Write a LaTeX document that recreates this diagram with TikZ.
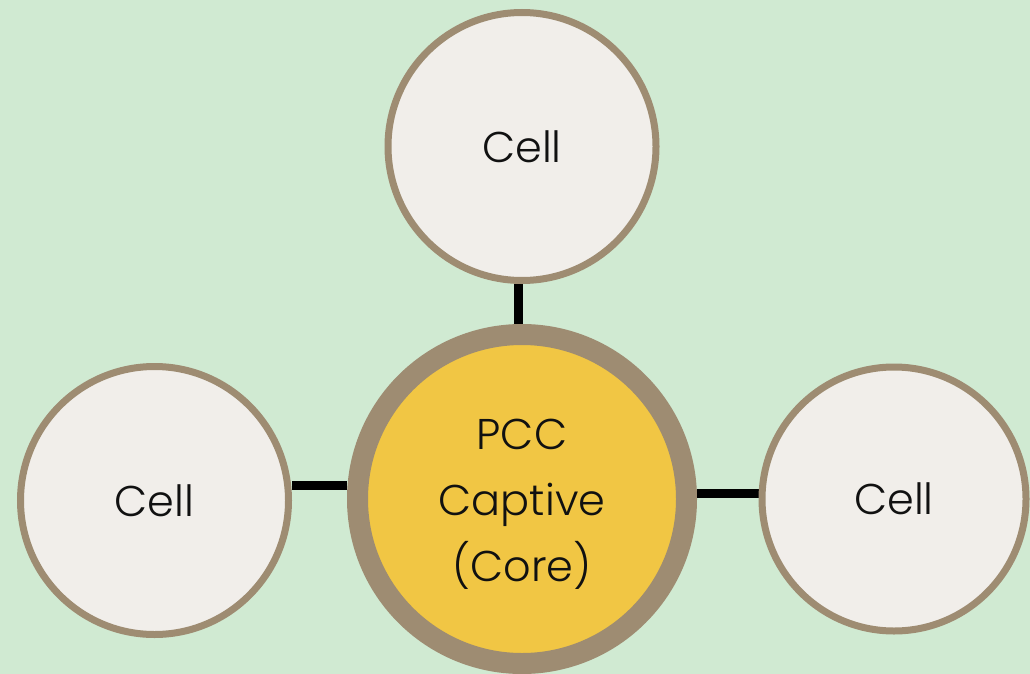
\documentclass[tikz,border=0pt]{standalone}
\usepackage{fontspec}
\setmainfont{Poppins Light}
\pgfdeclarelayer{backdrop}
\pgfdeclarelayer{links}
\pgfsetlayers{backdrop,links,main}
\definecolor{mint}{HTML}{D0EAD2}
\definecolor{rim}{HTML}{9E8C72}
\definecolor{shell}{HTML}{F1EEEA}
\definecolor{gold}{HTML}{F1C644}
\definecolor{ink}{HTML}{111111}
\begin{document}
\begin{tikzpicture}[x=1pt,y=-1pt,
  label text/.style={text=ink,font=\fontsize{43}{66}\selectfont},
  cell/.style={circle,draw=rim,fill=shell,line width=7pt,inner sep=0pt,
    minimum size=268pt,label text},
  corecell/.style={circle,draw=rim,fill=gold,line width=21pt,inner sep=0pt,
    minimum size=329pt},
  link/.style={line width=9pt,draw=black}]
\begin{pgfonlayer}{backdrop}
  \fill[mint] (0,0) rectangle (1030,674);
\end{pgfonlayer}
\useasboundingbox (0,0) rectangle (1030,674);

\node[corecell] (core) at (522,499) {};
\node[label text,align=center] (coretext) at (522,504) {PCC\\Captive\\(Core)};
\node[cell] (top) at (522,146.5) {Cell};
\node[cell] (left) at (154.5,500.5) {Cell};
\node[cell,minimum size=264pt] (right) at (894,499) {Cell};

\begin{pgfonlayer}{links}
  \draw[link] ([xshift=-3.5pt]top.south) -- ([xshift=-3.5pt]core.north);
  \draw[link] ([yshift=15pt]left.east) -- ([yshift=13.5pt]core.west);
  \draw[link] ([yshift=6pt]core.east) -- ([yshift=6pt]right.west);
\end{pgfonlayer}
\end{tikzpicture}
\end{document}
